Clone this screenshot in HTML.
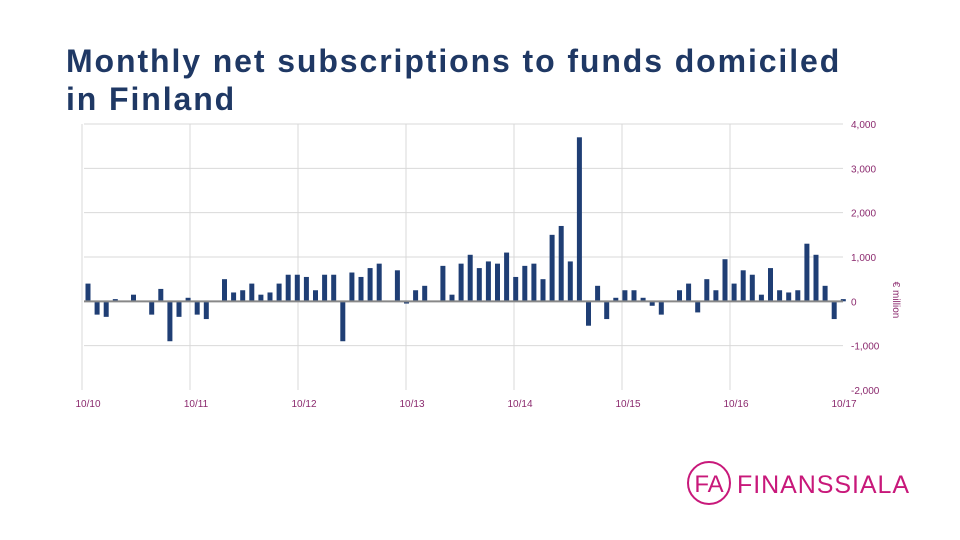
<!DOCTYPE html>
<html><head><meta charset="utf-8"><style>
body{margin:0;width:960px;height:540px;background:#fff;overflow:hidden;font-family:"Liberation Sans",sans-serif;}
#title{position:absolute;left:66px;top:42px;font-size:32px;line-height:38px;color:#1F3864;margin:0;font-weight:bold;letter-spacing:1.9px}
svg{position:absolute;left:0;top:0}
</style></head><body>
<h1 id="title">Monthly net subscriptions to funds domiciled<br>in Finland</h1>
<svg id="chart" width="960" height="540"></svg>
<script>
const values=[400,-300,-350,50,0,150,0,-300,280,-900,-350,80,-300,-400,0,500,200,250,400,150,200,400,600,600,550,250,600,600,-900,650,550,750,850,0,700,-50,250,350,0,800,150,850,1050,750,900,850,1100,550,800,850,500,1500,1700,900,3700,-550,350,-400,80,250,250,80,-100,-300,0,250,400,-250,500,250,950,400,700,600,150,750,250,200,250,1300,1050,350,-400,50];
const yTicks=[4000,3000,2000,1000,0,-1000,-2000];
const yTickLabels=["4,000","3,000","2,000","1,000","0","-1,000","-2,000"];
const xLabels=["10/10","10/11","10/12","10/13","10/14","10/15","10/16","10/17"];
const NS="http://www.w3.org/2000/svg";
const svg=document.getElementById('chart');
const x0=88,step=9.1,yTop=124,yBot=390;
const y=v=>yTop+(4000-v)/6000*(yBot-yTop);
const xm=i=>x0+i*step;
function mk(t,a){const e=document.createElementNS(NS,t);for(const k in a)e.setAttribute(k,a[k]);svg.appendChild(e);return e;}
yTicks.forEach((t,i)=>{
 if(t!==0&&t!==-2000){const l=mk('line',{x1:84,x2:843,y1:y(t),y2:y(t),stroke:'#d9d9d9','stroke-width':1});
 
 }
 const tx=mk('text',{x:851,y:y(t)+4,'font-size':10,fill:'#8B2A6E'});tx.textContent=yTickLabels[i];
 
 
});
xLabels.forEach((s,i)=>{
 const gx=82+i*108;
 if(i<xLabels.length-1){const l=mk('line',{x1:gx,x2:gx,y1:124,y2:390,stroke:'#d9d9d9','stroke-width':1});
 
 }
 const tx=mk('text',{x:88+i*108,y:407,'font-size':10,fill:'#8B2A6E','text-anchor':'middle'});tx.textContent=s;
 
 
});
values.forEach((v,i)=>{
 const a=y(Math.max(v,0)),b=y(Math.min(v,0));
 const r=mk('rect',{x:xm(i)-2.5,y:a,width:5,height:Math.max(b-a,0.5),fill:'#1F3E74'});
 
 
});
const z=mk('line',{x1:84,x2:843,y1:y(0),y2:y(0),stroke:'#888','stroke-width':2});


const yt=mk('text',{x:0,y:0,'font-size':10,fill:'#8B2A6E','text-anchor':'middle',transform:'translate(893,300) rotate(90)'});yt.textContent='€ million';


</script>
<svg width="960" height="540" style="pointer-events:none">
<circle cx="709" cy="483" r="21" fill="none" stroke="#C8187A" stroke-width="2"/>
<text x="709" y="492" font-size="24" fill="#C8187A" text-anchor="middle" font-family="Liberation Sans">FA</text>
<text x="737" y="493" font-size="25" fill="#C8187A" font-family="Liberation Sans" textLength="172">FINANSSIALA</text>
</svg>
</body></html>
